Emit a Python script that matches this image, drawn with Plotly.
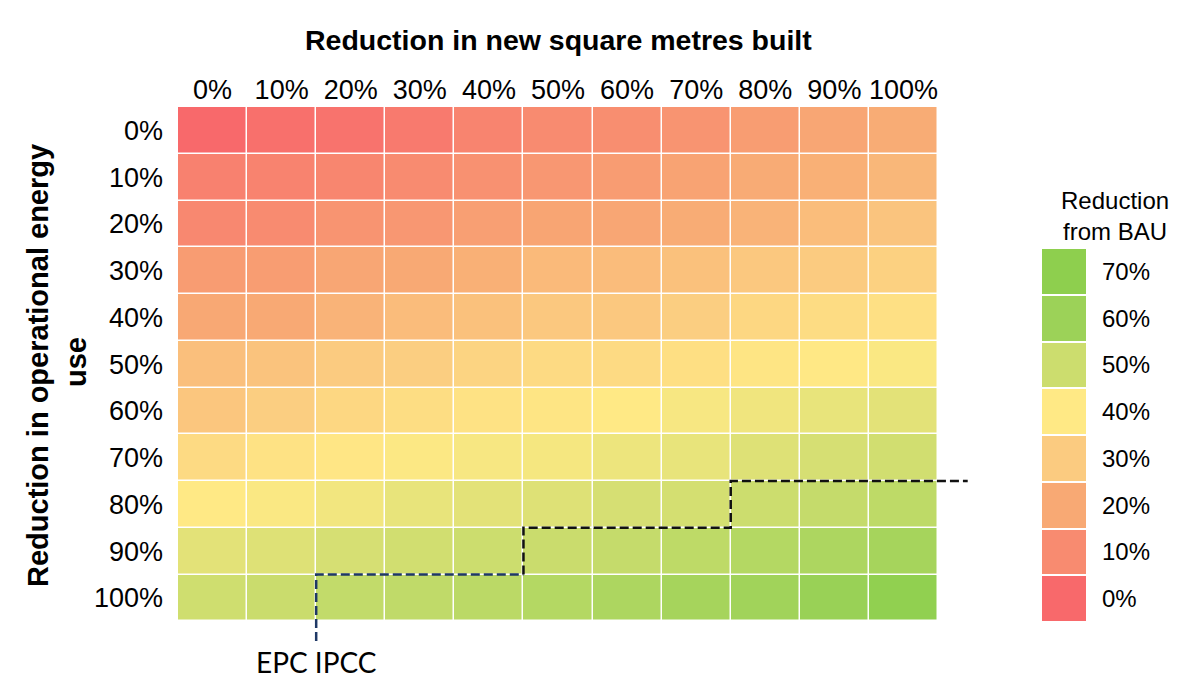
import plotly.graph_objects as go

# ---------------- data ----------------
x_labels = ["0%", "10%", "20%", "30%", "40%", "50%", "60%", "70%", "80%", "90%", "100%"]
y_labels = ["0%", "10%", "20%", "30%", "40%", "50%", "60%", "70%", "80%", "90%", "100%"]

# Reduction from BAU (%) - rows: operational energy reduction, cols: new m2 reduction
row_00 = [0, 2, 3, 5, 8, 10, 11, 13, 16, 19, 21]
row_10 = [7, 7.5, 8.5, 10, 12, 14, 15.5, 18, 20.5, 22, 24]
row_20 = [9, 10, 13, 14, 16.5, 18.5, 19, 21, 23, 26, 28]
row_30 = [15.5, 16, 19, 20, 22, 25, 25.5, 27, 29, 30, 32]
row_40 = [19.5, 20, 23, 25.5, 27, 29, 29, 31, 34, 35.5, 37]
row_50 = [26.5, 27.5, 30, 31, 33, 35, 35, 36.5, 38.5, 39.5, 41]
row_60 = [28.5, 31, 34, 36, 37.5, 38.5, 40, 41.5, 43, 44.5, 45.5]
row_70 = [35, 37.5, 39, 40.5, 41.5, 42, 43.5, 44.5, 46.5, 48, 49]
row_80 = [40, 41, 42.5, 44.5, 45.5, 46.5, 48, 48.5, 50, 51.5, 53]
row_90 = [45.5, 46.5, 48, 49, 50, 50.5, 51.5, 53, 55, 56.5, 58]
row_100 = [49.5, 50.5, 52, 52.5, 53.5, 55, 56.5, 58, 59, 62, 68]

legend_levels = [0, 10, 20, 30, 40, 50, 60, 70]
legend_labels = ["0%", "10%", "20%", "30%", "40%", "50%", "60%", "70%"]

# EPC IPCC threshold step (column boundary -> row boundary)
step_cols = [1.5, 4.5, 7.5]
step_rows = [9.5, 8.5, 7.5]

# ---------------- build ----------------
z = [row_00, row_10, row_20, row_30, row_40, row_50, row_60, row_70, row_80, row_90, row_100]
n = len(x_labels)

level_colors = ["#F8696B", "#F88B70", "#F8A974", "#FBCB80", "#FFE985", "#CCDD6E", "#9CD258", "#8ECF4E"]
zmin, zmax = legend_levels[0], legend_levels[-1]
colorscale = [[(lv - zmin) / (zmax - zmin), c] for lv, c in zip(legend_levels, level_colors)]

FONT = "Liberation Sans, Arial, sans-serif"

fig = go.Figure()
fig.add_trace(go.Heatmap(
    z=z, x=list(range(n)), y=list(range(n)),
    colorscale=colorscale, zmin=zmin, zmax=zmax, showscale=False,
    xgap=1.5, ygap=1.5, hoverinfo="skip", xaxis="x", yaxis="y"))

# legend swatches
fig.add_trace(go.Heatmap(
    z=[[v] for v in legend_levels], x=[0], y=list(range(len(legend_levels))),
    colorscale=colorscale, zmin=zmin, zmax=zmax, showscale=False,
    xgap=0, ygap=2, hoverinfo="skip", xaxis="x2", yaxis="y2"))

# step line
bottom_y = 10.92
right_x = 10.93
seg1_x = [step_cols[0], step_cols[0], step_cols[1]]
seg1_y = [bottom_y, step_rows[0], step_rows[0]]
seg2_x = [step_cols[1], step_cols[1], step_cols[2], step_cols[2], right_x]
seg2_y = [step_rows[0], step_rows[1], step_rows[1], step_rows[2], step_rows[2]]
fig.add_trace(go.Scatter(x=seg1_x, y=seg1_y, mode="lines",
                         line=dict(color="#1F3866", width=2.5, dash="9px,4px"),
                         hoverinfo="skip", showlegend=False, xaxis="x", yaxis="y"))
fig.add_trace(go.Scatter(x=seg2_x, y=seg2_y, mode="lines",
                         line=dict(color="#111111", width=2.5, dash="9px,4px"),
                         hoverinfo="skip", showlegend=False, xaxis="x", yaxis="y"))

# page has an 8px body margin: figure is drawn 8px right/down
OFF = 8
W, H = 1200 - OFF, 700 - OFF
ml, mt = 178 - OFF, 107 - OFF
plot_right, plot_bottom = 1185 - OFF, 641 - OFF
mr, mb = W - plot_right, H - plot_bottom
pw, ph = W - ml - mr, H - mt - mb
px_unit = 760 / 11
x_dom_end = (10.95 + 0.5) * px_unit / pw

def px_x(p):
    return (p - OFF - ml) / pw

def px_y(p):
    return (H - mb - (p - OFF)) / ph

fig.update_layout(
    width=W, height=H,
    margin=dict(l=ml, r=mr, t=mt, b=mb, autoexpand=False),
    paper_bgcolor="white", plot_bgcolor="white",
    font=dict(family=FONT, color="#000000", size=27),
    showlegend=False,
    xaxis=dict(domain=[0, x_dom_end], range=[-0.5, 10.95], side="top",
               tickvals=list(range(n)), ticktext=x_labels, ticks="",
               showgrid=False, zeroline=False, showline=False, automargin=False,
               tickfont=dict(size=27), ticklabelstandoff=2, anchor="y"),
    yaxis=dict(domain=[0, 1], range=[10.92, -0.5],
               tickvals=list(range(n)), ticktext=y_labels, ticks="",
               showgrid=False, zeroline=False, showline=False, automargin=False,
               tickfont=dict(size=27), ticklabelstandoff=14, anchor="x"),
    xaxis2=dict(domain=[px_x(1042), px_x(1086)], range=[-0.5, 0.5],
                showticklabels=False, ticks="", showgrid=False, zeroline=False,
                automargin=False, anchor="y2"),
    yaxis2=dict(domain=[px_y(622), px_y(248)], range=[-0.5, 7.5], side="right",
                tickvals=list(range(len(legend_levels))), ticktext=legend_labels,
                ticks="", showgrid=False, zeroline=False, anchor="x2", automargin=False,
                tickfont=dict(size=24), ticklabelstandoff=15),
    annotations=[
        dict(text="<b>Reduction in new square metres built</b>", xref="paper", yref="paper",
             x=px_x(558), y=px_y(40), xanchor="center", yanchor="middle",
             showarrow=False, font=dict(size=28.5, family=FONT)),
        dict(text="<b>Reduction in operational energy</b>", xref="paper", yref="paper",
             x=px_x(38), y=px_y(366), xanchor="center", yanchor="middle", textangle=-90,
             showarrow=False, font=dict(size=29, family=FONT)),
        dict(text="<b>use</b>", xref="paper", yref="paper",
             x=px_x(76), y=px_y(362), xanchor="center", yanchor="middle", textangle=-90,
             showarrow=False, font=dict(size=29, family=FONT)),
        dict(text="Reduction<br>from BAU", xref="paper", yref="paper",
             x=px_x(1115), y=px_y(216), xanchor="center", yanchor="middle",
             showarrow=False, font=dict(size=24, family=FONT)),
        dict(text="EPC IPCC", xref="x", yref="paper",
             x=step_cols[0], y=px_y(662), xanchor="center", yanchor="middle",
             showarrow=False, font=dict(size=28, family="Lato, Carlito, sans-serif")),
    ],
)

fig.write_html("out.html")
